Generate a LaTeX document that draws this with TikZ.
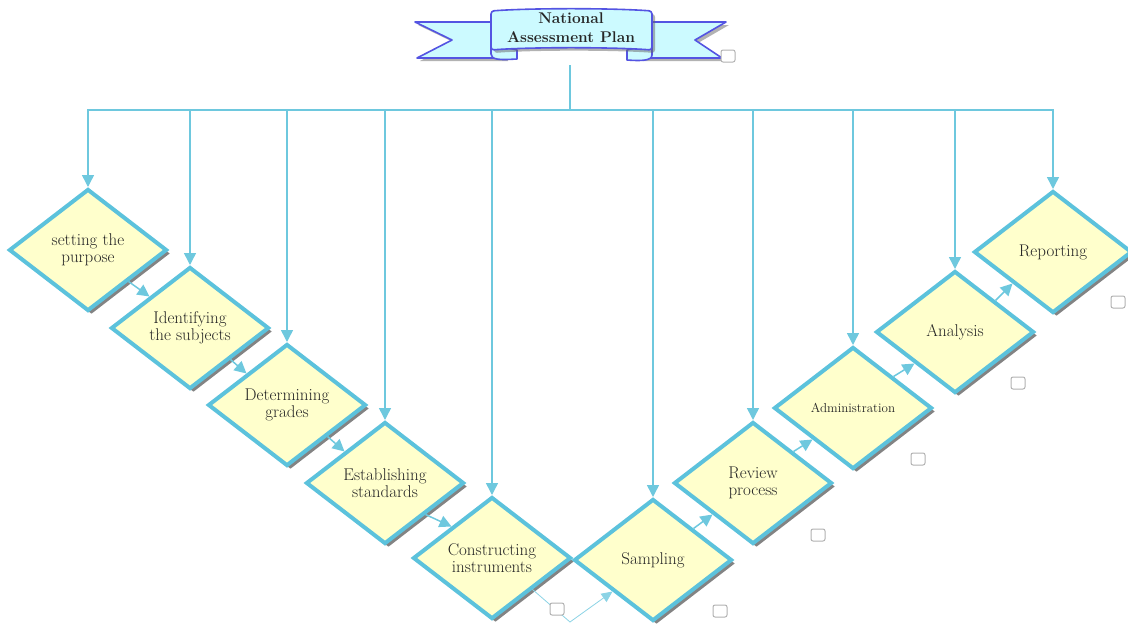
\documentclass[tikz,border=0pt]{standalone}
\usetikzlibrary{shapes.geometric,shadows,arrows.meta}
\definecolor{dborder}{RGB}{92,194,220}
\definecolor{dfill}{RGB}{255,255,204}
\definecolor{conn}{RGB}{110,200,222}
\definecolor{bfill}{RGB}{204,250,255}
\definecolor{bborder}{RGB}{84,84,226}
\begin{document}
\begin{tikzpicture}[x=1pt,y=-1pt,
  stage/.style={diamond, draw=dborder, line width=4pt, fill=dfill,
    minimum width=158pt, minimum height=122pt, inner sep=0pt, align=center,
    font=\fontsize{17}{17.5}\selectfont, text=black!85,
    drop shadow={shadow xshift=3.5pt, shadow yshift=-3.5pt, fill=black!65, opacity=0.75}},
  line/.style={draw=conn, line width=1.5pt},
  arr/.style={line, -{Triangle[length=12pt,width=12pt]}},
  thinarr/.style={draw=conn!80, line width=0.8pt, -{Triangle[length=11pt,width=10pt]}},
  banner/.style={draw=bborder, fill=bfill, line width=1.6pt, line join=round},
  bshadow/.style={drop shadow={shadow xshift=3pt, shadow yshift=-3pt, fill=black!60, opacity=0.5}},
  cbox/.style={draw=gray!60, fill=white, line width=1pt, rounded corners=2pt,
    minimum width=14pt, minimum height=12pt, inner sep=0pt}]
\useasboundingbox (0,0) rectangle (1128,624);

% banner
\path[banner,bshadow] (415,22) -- (505,22) -- (505,58) -- (417,58) -- (452,40) -- cycle;
\path[banner,bshadow] (726,22) -- (640,22) -- (640,58) -- (722,58) -- (695,40) -- cycle;
\path[banner] (491,44) -- (491,54) .. controls (491,60) and (500,60) .. (517,59) -- (517,50) -- cycle;
\path[banner] (652,44) -- (652,55) .. controls (652,61) and (640,61) .. (627,60) -- (627,50) -- cycle;
\path[banner,bshadow,rounded corners=3pt] (491,11) .. controls (530,8) and (612,8) .. (652,11) -- (652,50) .. controls (612,47) and (530,47) .. (491,50) -- cycle;
\node[font=\bfseries\fontsize{15.5}{19}\selectfont, text=black!85, align=center] (title) at (571,28) {National\\Assessment Plan};

% stages
\node[stage] (d1) at (88,250) {setting the\\purpose};
\node[stage] (d2) at (190,328) {Identifying\\the subjects};
\node[stage] (d3) at (287,405) {Determining\\grades};
\node[stage] (d4) at (385,483) {Establishing\\standards};
\node[stage] (d5) at (492,558) {Constructing\\instruments};
\node[stage] (d6) at (653,560) {Sampling};
\node[stage] (d7) at (753,483) {Review\\process};
\node[stage, font=\fontsize{13}{14}\selectfont] (d8) at (853,408) {Administration};
\node[stage] (d9) at (955,332) {Analysis};
\node[stage] (d10) at (1053,252) {Reporting};

% tree connectors
\coordinate (stemtop) at (570,65);
\coordinate (bus) at (570,110);
\draw[line] (stemtop) -- (bus);
\foreach \n in {d1,d2,d3,d4,d5,d6,d7,d8,d9,d10}
  \draw[arr] (bus) -| (\n.north);

% step connectors
\draw[arr] (d1.south east) -- (d2.north west);
\draw[arr] (d2.south east) -- (d3.north west);
\draw[arr] (d3.south east) -- (d4.north west);
\draw[arr] (d4.south east) -- (d5.north west);
\coordinate (valley) at (570,622);
\draw[thinarr] (d5.south east) -- (valley) -- (d6.south west);
\draw[arr] (d6.north east) -- (d7.south west);
\draw[arr] (d7.north east) -- (d8.south west);
\draw[arr] (d8.north east) -- (d9.south west);
\draw[arr] (d9.north east) -- (d10.south west);

% small boxes
\node[cbox] (c0) at (728,56) {};
\node[cbox] (c1) at (1118,302) {};
\node[cbox] (c2) at (1018,383) {};
\node[cbox] (c3) at (918,459) {};
\node[cbox] (c4) at (818,535) {};
\node[cbox] (c5) at (720,611) {};
\node[cbox] (c6) at (557,609) {};
\end{tikzpicture}
\end{document}
